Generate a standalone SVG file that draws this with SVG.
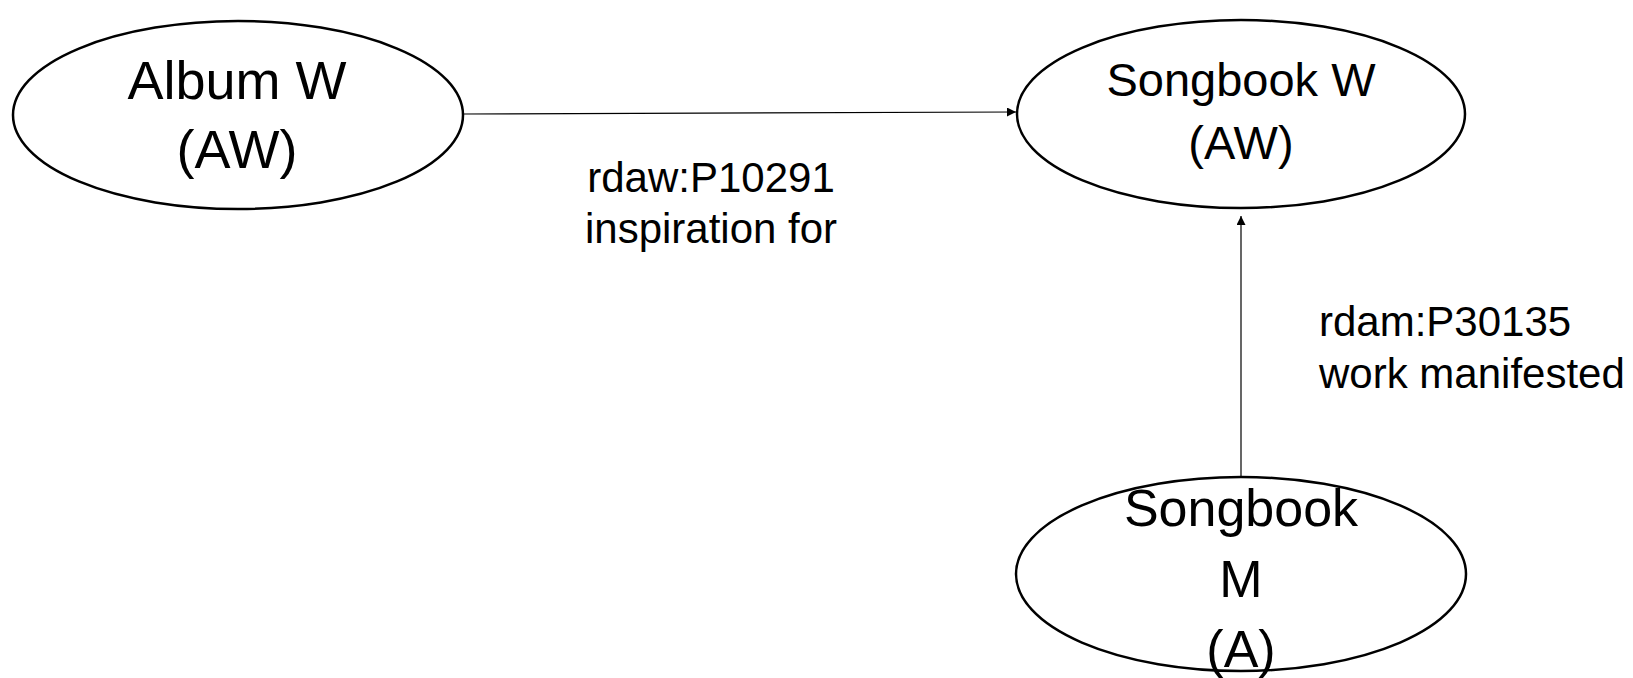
<svg xmlns="http://www.w3.org/2000/svg" width="1633" height="678" viewBox="0 0 1633 678">
<defs>
<style>
.node ellipse{fill:#fff;stroke:#000;stroke-width:2.5}
.node text{font-family:"Liberation Sans",Arial,sans-serif;fill:#000;text-anchor:middle}
.lbl{font-family:"Liberation Sans",Arial,sans-serif;fill:#000;font-size:42px}
.edge{stroke:#000;stroke-width:1.2;fill:none;marker-end:url(#arr)}
</style>
<marker id="arr" markerUnits="userSpaceOnUse" markerWidth="10" markerHeight="10" refX="9" refY="4.5" orient="auto" viewBox="0 0 10 10">
<path d="M0,0 L9,4.5 L0,9 z" fill="#000"/>
</marker>
</defs>
<rect width="1633" height="678" fill="#fff"/>
<g id="connectors">
<line class="edge" x1="463" y1="114" x2="1016" y2="112"/>
<line class="edge" x1="1241" y1="476" x2="1241" y2="216"/>
<text class="lbl" x="711" y="192" text-anchor="middle">rdaw:P10291</text>
<text class="lbl" x="711" y="243" text-anchor="middle">inspiration for</text>
<text class="lbl" x="1319" y="336">rdam:P30135</text>
<text class="lbl" x="1319" y="388">work manifested</text>
</g>
<g id="album-w" class="node">
<ellipse cx="238" cy="115" rx="225" ry="94"/>
<text x="237" y="99" font-size="54">Album W</text>
<text x="237" y="168" font-size="54">(AW)</text>
</g>
<g id="songbook-w" class="node">
<ellipse cx="1241" cy="114" rx="224" ry="94"/>
<text x="1241" y="96" font-size="47">Songbook W</text>
<text x="1241" y="159" font-size="47">(AW)</text>
</g>
<g id="songbook-m" class="node">
<ellipse cx="1241" cy="574" rx="225" ry="97"/>
<text x="1241" y="526" font-size="52">Songbook</text>
<text x="1241" y="597" font-size="52">M</text>
<text x="1241" y="667" font-size="52">(A)</text>
</g>
</svg>
